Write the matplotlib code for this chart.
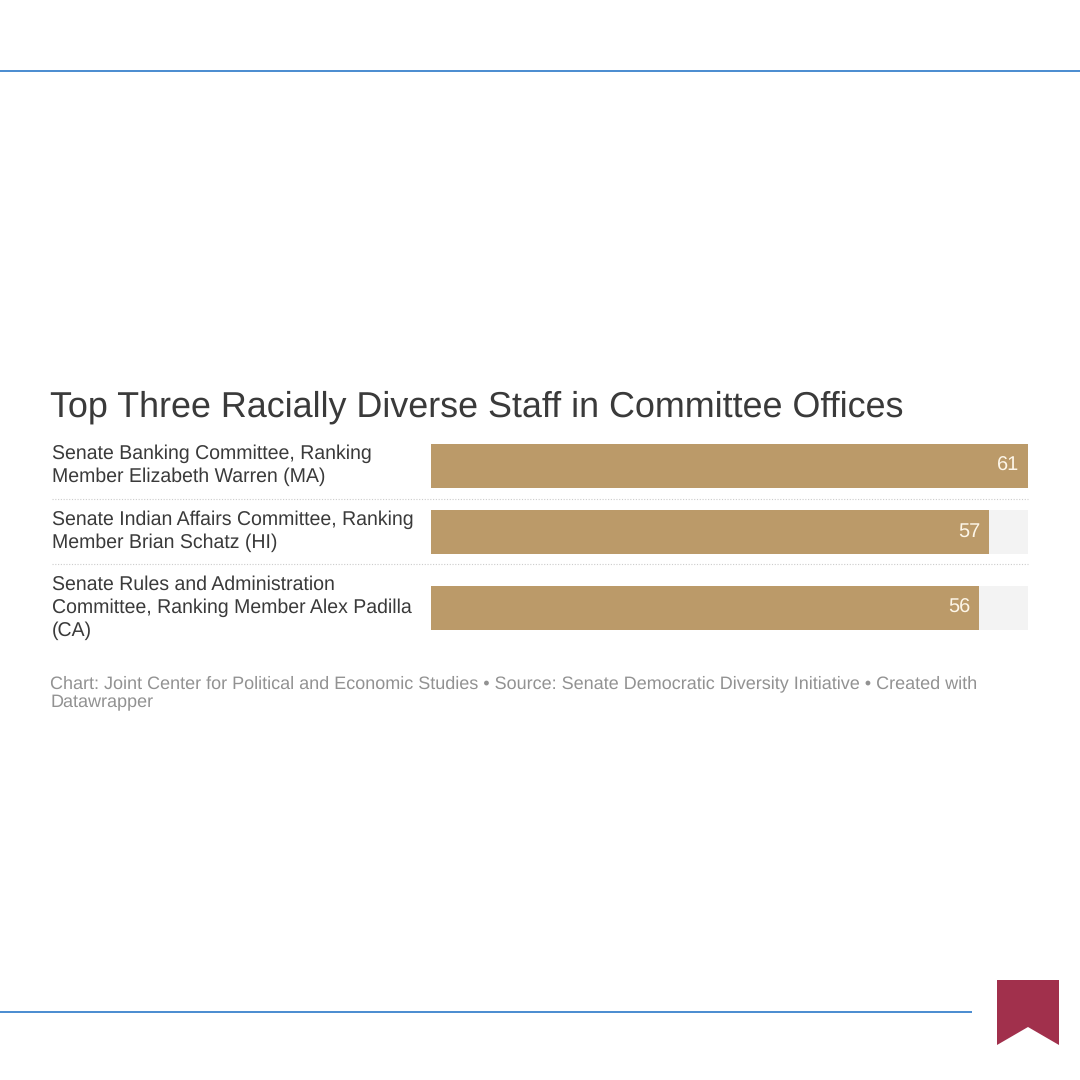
#!/usr/bin/env python3

import matplotlib
matplotlib.use("Agg")
import matplotlib.pyplot as plt
from matplotlib.patches import Polygon

plt.rcParams["font.family"] = ["Liberation Sans", "DejaVu Sans"]
plt.rcParams["text.hinting"] = "no_hinting"

title = "Top Three Racially Diverse Staff in Committee Offices"
labels = [
    "Senate Banking Committee, Ranking\nMember Elizabeth Warren (MA)",
    "Senate Indian Affairs Committee, Ranking\nMember Brian Schatz (HI)",
    "Senate Rules and Administration\nCommittee, Ranking Member Alex Padilla\n(CA)",
]
values = [61, 57, 56]
max_value = 61
footer = (
    "Chart: Joint Center for Political and Economic Studies \u2022 Source: Senate "
    "Democratic Diversity Initiative \u2022 Created with\nDatawrapper"
)

BAR = "#bb9a69"
TRACK = "#f3f3f3"
BLUE = "#4a8bd0"
TEXT = "#3a3a3a"
GREY = "#929292"
MAROON = "#a1304c"

# pixel rows of the bars, first label baselines and separators
bar_y = [466.5, 532, 608.5]
label_y = [459, 525, 590]
sep_y = [499, 564]
W = 1080

fig = plt.figure(figsize=(10.8, 10.8), dpi=100, facecolor="white")

# full-figure axes in pixels for the page furniture and text
page = fig.add_axes([0, 0, 1, 1])
page.set_xlim(0, W)
page.set_ylim(W, 0)
page.axis("off")

page.plot([0, 1080], [70.5, 70.5], color=BLUE, lw=1.4, solid_capstyle="butt")
page.plot([0, 972], [1012, 1012], color=BLUE, lw=1.4, solid_capstyle="butt")
page.add_patch(Polygon(
    [(997, 980), (1059, 980), (1059, 1045), (1028, 1027), (997, 1045)],
    closed=True, facecolor=MAROON, edgecolor="none",
))

page.text(50, 417, title, fontsize=25.87, color=TEXT, va="baseline", ha="left")
# lines placed one by one so the leading matches the reference
for lab, y in zip(labels, label_y):
    for i, line in enumerate(lab.split("\n")):
        page.text(52, y + i * 23, line, fontsize=14.07, color=TEXT,
                  va="baseline", ha="left")
for y in sep_y:
    page.plot([52, 1028], [y, y], color="#cccccc", lw=0.8, ls=(0, (1, 1.5)))
for i, line in enumerate(footer.split("\n")):
    page.text(50.5, 688 + i * 19, line, fontsize=12.99, color=GREY,
              va="baseline", ha="left")

# bar panel: x is the value scale, y stays in page pixels
ax = fig.add_axes([431 / W, 1 - 640 / W, (1028 - 431) / W, 200 / W])
ax.set_xlim(0, max_value)
ax.set_ylim(640, 440)
ax.axis("off")
ax.patch.set_alpha(0)

ax.barh(bar_y, [max_value] * len(values), height=44, color=TRACK, linewidth=0)
ax.barh(bar_y, values, height=44, color=BAR, linewidth=0)
for y, v in zip(bar_y, values):
    ax.annotate(str(v), (v, y), xytext=(-6, 0.3), textcoords="offset points",
                color="#fdf6e8", fontsize=14.4, ha="right", va="center")

fig.savefig("out.png", dpi=100)
